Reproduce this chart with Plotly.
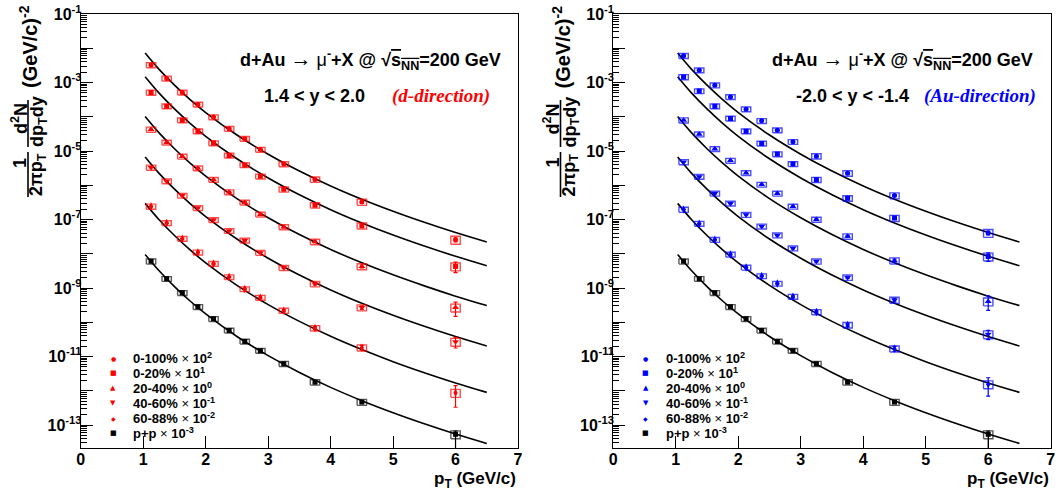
import plotly.graph_objects as go

W, H = 1062, 496

# ---------------- data ----------------
pt = [1.125, 1.375, 1.625, 1.875, 2.125, 2.375, 2.625, 2.875, 3.25, 3.75, 4.5, 6.0]

# 1.4 < y < 2.0  (d-direction), already multiplied by the display factors
fwd_0_100 = [3.24e-3, 1.32e-3, 5.13e-4, 2.29e-4, 9.77e-5, 4.47e-5, 2.29e-5, 1.10e-5, 4.17e-6, 1.48e-6, 3.24e-7, 2.57e-8]
fwd_0_20 = [5.13e-4, 2.04e-4, 7.94e-5, 3.80e-5, 1.70e-5, 7.41e-6, 3.89e-6, 1.82e-6, 7.59e-7, 2.63e-7, 6.61e-8, 4.27e-9]
fwd_20_40 = [4.27e-5, 1.78e-5, 6.92e-6, 3.16e-6, 1.45e-6, 6.31e-7, 3.16e-7, 1.41e-7, 6.03e-8, 2.24e-8, 4.27e-9, 2.69e-10]
fwd_40_60 = [3.31e-6, 1.32e-6, 5.01e-7, 2.19e-7, 9.77e-8, 4.68e-8, 2.45e-8, 1.07e-8, 3.89e-9, 1.32e-9, 2.69e-10, 2.69e-11]
fwd_60_88 = [2.40e-7, 7.94e-8, 2.75e-8, 1.10e-8, 5.13e-9, 2.09e-9, 9.33e-10, 5.25e-10, 2.19e-10, 6.76e-11, 1.82e-11, 8.71e-13]

# -2.0 < y < -1.4  (Au-direction)
bwd_0_100 = [6.03e-3, 2.29e-3, 8.32e-4, 3.80e-4, 1.66e-4, 7.59e-5, 4.07e-5, 1.86e-5, 7.08e-6, 2.24e-6, 5.01e-7, 4.07e-8]
bwd_0_20 = [1.45e-3, 5.62e-4, 2.04e-4, 8.91e-5, 3.80e-5, 1.66e-5, 8.13e-6, 4.17e-6, 1.45e-6, 4.17e-7, 1.10e-7, 8.32e-9]
bwd_20_40 = [7.94e-5, 3.09e-5, 1.15e-5, 5.25e-6, 2.29e-6, 1.05e-6, 5.75e-7, 2.40e-7, 1.00e-7, 3.24e-8, 6.31e-9, 4.07e-10]
bwd_40_60 = [4.79e-6, 1.78e-6, 5.75e-7, 2.95e-7, 1.38e-7, 6.31e-8, 3.47e-8, 1.45e-8, 6.03e-9, 2.04e-9, 4.47e-10, 4.47e-11]
bwd_60_88 = [1.95e-7, 7.59e-8, 2.57e-8, 9.55e-9, 3.98e-9, 2.24e-9, 1.35e-9, 5.62e-10, 2.00e-10, 8.32e-11, 1.70e-11, 1.55e-12]

# p+p x 10^-3 (same in both panels)
pp = [6.03e-9, 1.86e-9, 7.24e-10, 2.82e-10, 1.26e-10, 5.75e-11, 2.75e-11, 1.48e-11, 6.17e-12, 1.78e-12, 4.68e-13, 5.37e-14]

# relative statistical errors
fwd_stat_0_100 = [0.02, 0.02, 0.02, 0.02, 0.02, 0.02, 0.02, 0.03, 0.03, 0.04, 0.06, 0.14]
fwd_stat_0_20 = [0.02, 0.02, 0.02, 0.02, 0.02, 0.02, 0.03, 0.03, 0.04, 0.05, 0.08, 0.34]
fwd_stat_20_40 = [0.02, 0.02, 0.02, 0.02, 0.02, 0.03, 0.03, 0.04, 0.05, 0.06, 0.10, 0.45]
fwd_stat_40_60 = [0.02, 0.02, 0.02, 0.02, 0.03, 0.03, 0.04, 0.04, 0.05, 0.07, 0.12, 0.34]
fwd_stat_60_88 = [0.03, 0.03, 0.03, 0.03, 0.04, 0.04, 0.05, 0.06, 0.07, 0.10, 0.16, 0.62]
bwd_stat_0_100 = [0.02, 0.02, 0.02, 0.02, 0.02, 0.02, 0.02, 0.03, 0.03, 0.04, 0.06, 0.12]
bwd_stat_0_20 = [0.02, 0.02, 0.02, 0.02, 0.02, 0.02, 0.03, 0.03, 0.04, 0.05, 0.08, 0.28]
bwd_stat_20_40 = [0.02, 0.02, 0.02, 0.02, 0.02, 0.03, 0.03, 0.04, 0.05, 0.06, 0.10, 0.45]
bwd_stat_40_60 = [0.02, 0.02, 0.02, 0.02, 0.03, 0.03, 0.04, 0.04, 0.05, 0.07, 0.12, 0.30]
bwd_stat_60_88 = [0.03, 0.03, 0.03, 0.03, 0.04, 0.04, 0.05, 0.06, 0.07, 0.10, 0.16, 0.55]
pp_stat_hi = [0.02, 0.02, 0.02, 0.02, 0.02, 0.02, 0.03, 0.03, 0.04, 0.05, 0.08, 0.25]
pp_stat_lo = [0.02, 0.02, 0.02, 0.02, 0.02, 0.02, 0.03, 0.03, 0.04, 0.05, 0.08, 0.75]

# relative systematic errors (boxes)
sys_rel = [0.17, 0.16, 0.16, 0.16, 0.16, 0.16, 0.16, 0.16, 0.17, 0.18, 0.20, 0.26]
box_halfwidth = 0.075

# p+p fit curve (x 10^-3), scaled by Ncoll for d+Au
fit_pt = [1.03, 1.25, 1.5, 1.75, 2.0, 2.5, 3.0, 3.5, 4.0, 4.5, 5.0, 5.5, 6.0, 6.5]
pp_fit = [9.55e-9, 3.24e-9, 1.10e-9, 4.18e-10, 1.75e-10, 3.85e-11, 1.06e-11, 3.43e-12,
          1.26e-12, 5.15e-13, 2.29e-13, 1.09e-13, 5.47e-14, 2.90e-14]
ncoll = [7.6, 15.4, 10.6, 7.0, 3.1]
display_scale = [1e2, 1e1, 1e0, 1e-1, 1e-2]
pp_display_scale = 1e-3

legend_labels = ["0-100%", "0-20%", "20-40%", "40-60%", "60-88%", "p+p"]
legend_powers = ["2", "1", "0", "-1", "-2", "-3"]
legend_glyphs = ["\u25cf", "\u25a0", "\u25b2", "\u25bc", "\u25c6", "\u25a0"]

xtick_vals = [0, 1, 2, 3, 4, 5, 6, 7]
ytick_vals = [1e-1, 1e-2, 1e-3, 1e-4, 1e-5, 1e-6, 1e-7, 1e-8, 1e-9, 1e-10, 1e-11, 1e-12, 1e-13]
ytick_text = ["10<sup>-1</sup>", "", "10<sup>-3</sup>", "", "10<sup>-5</sup>", "", "10<sup>-7</sup>", "",
              "10<sup>-9</sup>", "", "10<sup>-11</sup>", "", "10<sup>-13</sup>"]

# ---------------- styling ----------------
SANS = "Liberation Sans, Arial, sans-serif"
SERIF = "Liberation Serif, Times New Roman, serif"
symbols = ["circle", "square", "triangle-up", "triangle-down", "diamond-tall", "square"]
msizes = [5, 5, 6, 6, 6, 5]


def px(x):
    return x / W


def py(y):
    return 1 - y / H


fig = go.Figure()


def add_panel(xa, ya, series, stats, color, box_color):
    for k in range(5):
        curve = [v / pp_display_scale * ncoll[k] * display_scale[k] for v in pp_fit]
        fig.add_trace(go.Scatter(x=fit_pt, y=curve, mode="lines",
                                 line=dict(color="black", width=1.6, shape="spline", smoothing=1.0),
                                 xaxis=xa, yaxis=ya, hoverinfo="skip"))
    fig.add_trace(go.Scatter(x=fit_pt, y=pp_fit, mode="lines",
                             line=dict(color="black", width=1.6, shape="spline", smoothing=1.0),
                             xaxis=xa, yaxis=ya, hoverinfo="skip"))
    all_series = series + [pp]
    all_hi = stats + [pp_stat_hi]
    all_lo = stats + [pp_stat_lo]
    colors = [color] * 5 + ["black"]
    bcolors = [box_color] * 5 + ["rgba(0,0,0,0.65)"]
    for i, (yv_list, hi, lo) in enumerate(zip(all_series, all_hi, all_lo)):
        bx, by = [], []
        for xv, yv, s in zip(pt, yv_list, sys_rel):
            x0, x1 = xv - box_halfwidth, xv + box_halfwidth
            y0, y1 = yv * (1 - s), yv * (1 + s)
            bx += [x0, x1, x1, x0, x0, None]
            by += [y0, y0, y1, y1, y0, None]
        fig.add_trace(go.Scatter(x=bx, y=by, mode="lines", line=dict(color=bcolors[i], width=1.4),
                                 xaxis=xa, yaxis=ya, hoverinfo="skip"))
        fig.add_trace(go.Scatter(
            x=pt, y=yv_list, mode="markers",
            marker=dict(symbol=symbols[i], size=msizes[i], color=colors[i], line=dict(width=0)),
            error_y=dict(type="data", symmetric=False,
                         array=[a * b for a, b in zip(yv_list, hi)],
                         arrayminus=[a * b for a, b in zip(yv_list, lo)],
                         color=colors[i], thickness=1.2, width=2),
            xaxis=xa, yaxis=ya))


add_panel("x", "y", [fwd_0_100, fwd_0_20, fwd_20_40, fwd_40_60, fwd_60_88],
          [fwd_stat_0_100, fwd_stat_0_20, fwd_stat_20_40, fwd_stat_40_60, fwd_stat_60_88],
          "#ff0000", "rgba(255,0,0,0.7)")
add_panel("x2", "y2", [bwd_0_100, bwd_0_20, bwd_20_40, bwd_40_60, bwd_60_88],
          [bwd_stat_0_100, bwd_stat_0_20, bwd_stat_20_40, bwd_stat_40_60, bwd_stat_60_88],
          "#0000ff", "rgba(0,0,255,0.7)")

tickfont = dict(family=SANS, size=16, color="black", weight="bold")
minor_y = [k * 10.0 ** e for e in range(-14, -1) for k in range(2, 10)]

xcommon = dict(range=[0, 7], tickmode="array", tickvals=xtick_vals, ticks="inside", ticklen=12,
               tickwidth=1, tickcolor="black", showline=True, linecolor="black", linewidth=1.2,
               mirror=True, showgrid=False, zeroline=False, tickfont=tickfont, automargin=False,
               ticklabelstandoff=-3)
ycommon = dict(type="log", range=[-13.67, -1], tickmode="array", tickvals=ytick_vals, ticktext=ytick_text,
               ticks="inside", ticklen=12, tickwidth=1, tickcolor="black", showline=True,
               linecolor="black", linewidth=1.2, mirror=True, showgrid=False, zeroline=False,
               tickfont=tickfont, automargin=False, ticklabelstandoff=-5,
               minor=dict(tickmode="array", tickvals=minor_y, ticks="inside", ticklen=6,
                          tickwidth=1, tickcolor="black", showgrid=False))

ydom = [py(448), py(14)]
fig.update_layout(
    width=W, height=H, margin=dict(l=0, r=0, t=0, b=0, pad=0, autoexpand=False),
    paper_bgcolor="white", plot_bgcolor="white", showlegend=False,
    xaxis=dict(domain=[px(80.8), px(518)], anchor="y", **xcommon),
    yaxis=dict(domain=ydom, anchor="x", **ycommon),
    xaxis2=dict(domain=[px(613.3), px(1050.7)], anchor="y2", **xcommon),
    yaxis2=dict(domain=ydom, anchor="x2", **ycommon),
)

annotations = []
shapes = []


def ann(text, x, y, size, xanchor="center", yanchor="middle", angle=0, color="black",
        family=SANS, weight="bold", style="normal"):
    annotations.append(dict(text=text, x=px(x), y=py(y), xref="paper", yref="paper",
                            xanchor=xanchor, yanchor=yanchor, showarrow=False, textangle=angle,
                            font=dict(family=family, size=size, color=color, weight=weight,
                                      style=style)))


for dx, rap_text, dir_text, dir_color, rap_x, dir_x, lcolor in [
        (0, "1.4 &lt; y &lt; 2.0", "(d-direction)", "#ff0000", 314.5, 441, "#ff0000"),
        (532.5, "-2.0 &lt; y &lt; -1.4", "(Au-direction)", "#0000ff", 853 - 532.5, 980 - 532.5, "#0000ff")]:
    # y-axis title
    ann("1", 20 + dx, 163, 18, angle=-90)
    ann("2\u03c0p<sub>T</sub>", 38 + dx, 175, 18, angle=-90)
    ann("d<sup>2</sup>N", 19 + dx, 119, 18, angle=-90)
    ann("dp<sub>T</sub>dy", 38 + dx, 122, 18, angle=-90)
    ann("(GeV/c)<sup>-2</sup>", 29 + dx, 47, 20, angle=-90)
    for (ya0, ya1) in [(152, 197), (100, 147)]:
        shapes.append(dict(type="line", xref="paper", yref="paper", x0=px(28 + dx), x1=px(28 + dx),
                           y0=py(ya0), y1=py(ya1), line=dict(color="black", width=1.6)))
    # x-axis title
    ann("p<sub>T</sub> (GeV/c)", 518 + dx, 480, 17, xanchor="right")
    # header
    ann("d+Au <span style='font-weight:normal;font-size:21px'>\u2192</span>"
        "<span style='font-weight:normal'> \u03bc</span><sup>-</sup>+X @ "
        "\u221a<span style='text-decoration:overline'>s<sub>NN</sub></span>=200 GeV",
        370 + dx, 60, 18)
    ann(rap_text, rap_x + dx, 96, 18)
    ann(dir_text, dir_x + dx, 96, 19, color=dir_color, family=SERIF, style="italic")
    # legend
    gsizes = [6, 7, 7, 7, 6, 7]
    for j, (lab, pw, gl) in enumerate(zip(legend_labels, legend_powers, legend_glyphs)):
        yy = 358 + j * 15
        ann(gl, 113 + dx, yy, gsizes[j], color=(lcolor if j < 5 else "black"), weight="normal",
            family="DejaVu Sans")
        ann(lab + " <span style='font-weight:normal'>\u00d7</span> 10<sup>" + pw + "</sup>",
            131 + dx, yy, 13, xanchor="left")

fig.update_layout(annotations=annotations, shapes=shapes)
fig.write_html("out.html", config={"displayModeBar": False},
               post_script="document.body.style.margin='0';")
